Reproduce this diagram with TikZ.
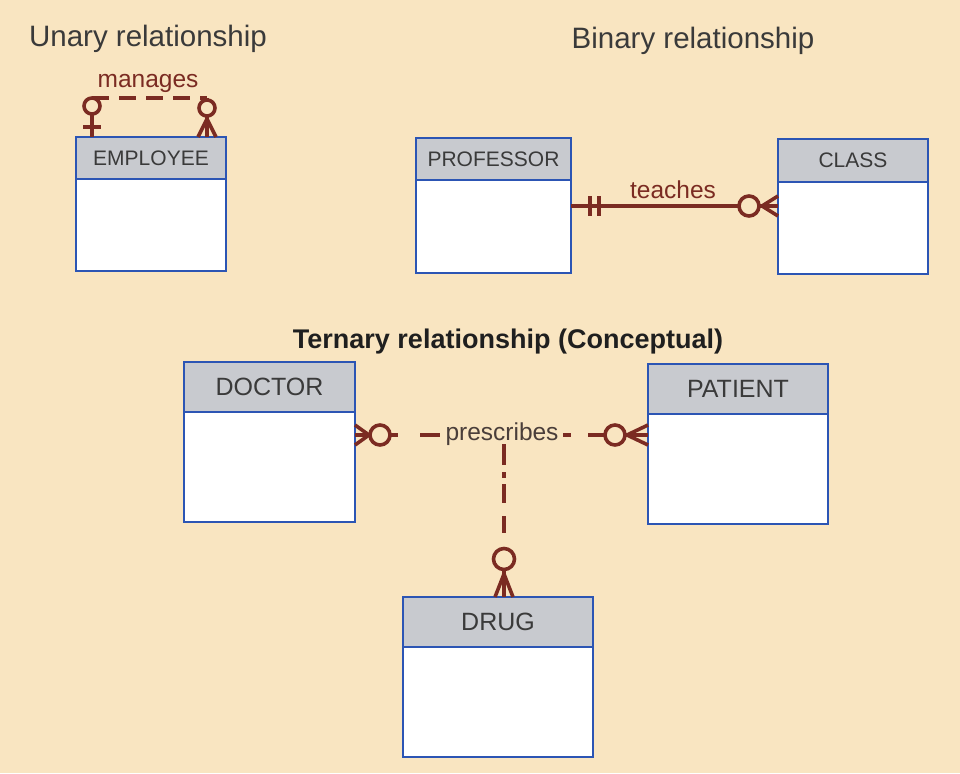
\documentclass[tikz,border=0pt]{standalone}
\usepackage{fontspec}
\setmainfont{Liberation Sans}
\definecolor{bg}{HTML}{F9E5C1}
\definecolor{hgray}{HTML}{C8CACF}
\definecolor{eblue}{HTML}{2C55B4}
\definecolor{conn}{HTML}{7B2B22}
\definecolor{txt}{HTML}{3A3A3A}
\definecolor{lblgray}{HTML}{4A3E3A}
\newcommand{\erentity}[8]{%
  \node[bodybox, minimum width={(#4-#2)*1pt}, minimum height={(#6-#5)*1pt}]
    (#1b) at ({(#2+#4)/2},{(#5+#6)/2}) {};
  \node[hdrbox, minimum width={(#4-#2)*1pt}, minimum height={(#5-#3)*1pt}, font=\fontsize{#8}{#8}\selectfont]
    (#1) at ({(#2+#4)/2},{(#3+#5)/2}) {#7};
}
\begin{document}
\begin{tikzpicture}[x=1pt,y=-1pt,
  hdrbox/.style={draw=eblue, fill=hgray, line width=2.6pt, inner sep=0pt, text=txt},
  bodybox/.style={draw=eblue, fill=white, line width=2.6pt, inner sep=0pt},
  rel/.style={draw=conn, line width=3.6pt},
  reldash/.style={rel, dash pattern=on 17pt off 10pt},
  title/.style={text=txt, font=\fontsize{29.5}{29.5}\selectfont, inner sep=0pt},
  lbl/.style={text=conn, font=\fontsize{24.5}{24.5}\selectfont, inner sep=1pt}
]
\fill[bg] (0,0) rectangle (960,773);
\useasboundingbox (0,0) rectangle (960,773);

% titles
\node[title] (t1) at (148,39) {Unary relationship};
\node[title] (t2) at (693,41) {Binary relationship};
\node[title, font=\fontsize{27}{27}\selectfont\bfseries, text=black!88] (t3) at (508,342) {Ternary relationship (Conceptual)};

% entities
\erentity{emp}{76}{137}{226}{179}{271}{EMPLOYEE}{21}
\erentity{prof}{416}{138}{571}{180}{273}{PROFESSOR}{21}
\erentity{cls}{778}{139}{928}{182}{274}{CLASS}{21}
\erentity{doc}{184}{362}{355}{412}{522}{DOCTOR}{25}
\erentity{pat}{648}{364}{828}{414}{524}{PATIENT}{25}
\erentity{drug}{403}{597}{593}{647}{757}{DRUG}{25}

% ---------- unary: manages ----------
\coordinate (ua) at (92,137);
\coordinate (ub) at (92,114);
\coordinate (uc) at (92,106);
\coordinate (ud) at (92,98);
\coordinate (ue) at (207,98);
\coordinate (uf) at (207,108);
\coordinate (ug) at (207,116);
\coordinate (uh) at (207,137);
\coordinate (ui) at (207,119);
\coordinate (ul1) at (83,127);
\coordinate (ul2) at (101,127);
\coordinate (ur1) at (198,137);
\coordinate (ur2) at (216,137);
\draw[rel] (ua) -- (ub);
\draw[rel] (ul1) -- (ul2);
\draw[rel] (uc) circle (8);
\draw[reldash] (ud) -- (ue);
\draw[rel] (ue) -- ++(0,2);
\draw[rel] (uf) circle (8);
\draw[rel] (ug) -- (uh);
\draw[rel] (ui) -- (ur1);
\draw[rel] (ui) -- (ur2);
\node[lbl] (manages) at (148,83) {manages};

% ---------- binary: teaches ----------
\coordinate (ba) at (571,206);
\coordinate (bb) at (739,206);
\coordinate (bc) at (749,206);
\coordinate (bd) at (759,206);
\coordinate (be) at (778,206);
\coordinate (bf) at (762,206);
\draw[rel] (ba) -- (bb);
\draw[rel] (590,196) -- (590,216);
\draw[rel] (599,196) -- (599,216);
\draw[rel] (bc) circle (10);
\draw[rel] (bd) -- (be);
\draw[rel] (bf) -- (778,196);
\draw[rel] (bf) -- (778,216);
\node[lbl] (teaches) at (673,190) {teaches};

% ---------- ternary: prescribes ----------
\coordinate (ta) at (355,435);
\coordinate (tb) at (369,435);
\coordinate (tc) at (380,435);
\coordinate (td) at (390,435);
\coordinate (te) at (605,435);
\coordinate (tf) at (615,435);
\coordinate (tg) at (625,435);
\coordinate (th) at (648,435);
\coordinate (ti) at (627,435);
\draw[rel] (ta) -- (tb);
\draw[rel] (tb) -- (355,425);
\draw[rel] (tb) -- (355,445);
\draw[rel] (tc) circle (10);
\draw[rel, dash pattern=on 8pt off 22pt on 20pt off 200pt] (td) -- (te);
\draw[rel, dash pattern=on 8pt off 17pt on 21pt off 200pt] (563,435) -- (te);
\draw[rel] (tf) circle (10);
\draw[rel] (tg) -- (th);
\draw[rel] (ti) -- (648,425);
\draw[rel] (ti) -- (648,445);
% vertical to DRUG
\coordinate (va) at (504,444);
\coordinate (vb) at (504,548);
\coordinate (vc) at (504,559);
\coordinate (vd) at (504,570);
\coordinate (ve) at (504,597);
\coordinate (vf) at (504,574);
\node[lbl, text=lblgray, fill=bg, inner sep=1pt] (presc) at (502,434) {prescribes};
\draw[rel, dash pattern=on 21pt off 7pt on 6pt off 6pt on 19pt off 13pt on 17pt off 100pt] (va) -- (vb);
\draw[rel] (vc) circle (10.5);
\draw[rel] (vd) -- (ve);
\draw[rel] (vf) -- (495,597);
\draw[rel] (vf) -- (513,597);
\end{tikzpicture}
\end{document}
